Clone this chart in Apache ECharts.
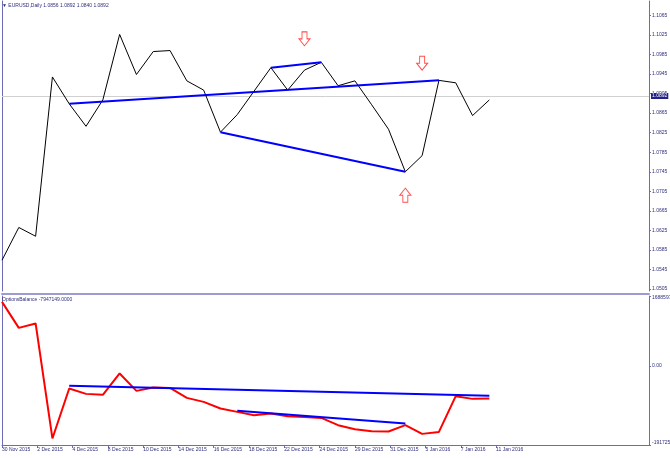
<!DOCTYPE html>
<html>
<head>
<meta charset="utf-8">
<script src="https://cdn.jsdelivr.net/npm/echarts@6/dist/echarts.min.js"></script>
<style>
  html, body { margin: 0; padding: 0; background: #fff; }
  #chart { width: 670px; height: 458px; }
</style>
</head>
<body>
<div id="chart"></div>
<script>
// daily bars, index = position on the time axis
const dates = [
  '30 Nov 2015', '1 Dec 2015', '2 Dec 2015', '3 Dec 2015', '4 Dec 2015',
  '7 Dec 2015', '8 Dec 2015', '9 Dec 2015', '10 Dec 2015', '11 Dec 2015',
  '14 Dec 2015', '15 Dec 2015', '16 Dec 2015', '17 Dec 2015', '18 Dec 2015',
  '21 Dec 2015', '22 Dec 2015', '23 Dec 2015', '24 Dec 2015', '25 Dec 2015',
  '28 Dec 2015', '29 Dec 2015', '30 Dec 2015', '31 Dec 2015', '4 Jan 2016',
  '5 Jan 2016', '6 Jan 2016', '7 Jan 2016', '8 Jan 2016', '11 Jan 2016'
];
const closes = [
  1.0564, 1.0631, 1.0613, 1.0939, 1.0884, 1.0838, 1.0892, 1.1026, 1.0944, 1.0991,
  1.0993, 1.0931, 1.0912, 1.0826, 1.0862, 1.0910, 1.0958, 1.0912, 1.0953, 1.0969,
  1.0921, 1.0931, 1.0882, 1.0832, 1.0745, 1.0778, 1.0932, 1.0927, 1.0860, 1.0892
];
const balance = [
  15460000, 9170000, 10240000, -17590000, -5490000, -6800000, -7040000, -1860000, -6070000, -5250000,
  -5350000, -7770000, -8740000, -10330000, -11160000, -11950000, -11540000, -12200000, -12370000, -12610000,
  -14370000, -15340000, -15830000, -15900000, -14370000, -16480000, -16000000, -7360000, -8010000, -7947149
];
const lastBar = [1.0856, 1.0892, 1.0840, 1.0892]; // open high low close

// hand drawn trend lines [barIndex, value]
const priceTrendA = [[4, 1.0884], [26, 1.0932]];
const priceTrendB = [[16, 1.0958], [19, 1.0969]];
const priceTrendC = [[13, 1.0826], [24, 1.0745]];
const balanceTrendA = [[4, -4860000], [29, -7280000]];
const balanceTrendB = [[14, -10910000], [24, -13960000]];
const arrowsDown = [[18, 1.1017], [25, 1.0967]];
const arrowsUp = [[24, 1.0697]];

// axis ticks
const priceTicks = [1.0505, 1.0545, 1.0585, 1.0625, 1.0665, 1.0705, 1.0745, 1.0785,
  1.0825, 1.0865, 1.0905, 1.0945, 1.0985, 1.1025, 1.1065];
const balanceTicks = [-19172520, 0, 16885970];
const dateTicks = ['30 Nov 2015', '2 Dec 2015', '4 Dec 2015', '8 Dec 2015', '10 Dec 2015',
  '14 Dec 2015', '16 Dec 2015', '18 Dec 2015', '22 Dec 2015', '24 Dec 2015',
  '29 Dec 2015', '31 Dec 2015', '5 Jan 2016', '7 Jan 2016', '11 Jan 2016'];
const dateTickStep = 2.1;

const font = 'Liberation Sans';
const textColor = '#2e2e7c';
const frameColor = '#6c6cb8';
const arrowDownPath = 'path://M3,0L8,0L8,7L11,7L5.5,14L0,7L3,7Z';
const arrowUpPath = 'path://M5.5,0L11,7L8,7L8,14L3,14L3,7L0,7Z';

const toXY = (arr) => arr.map((v, i) => [i, v]);
const trend = (data, xi, yi) => ({
  type: 'line', xAxisIndex: xi, yAxisIndex: yi, data: data,
  showSymbol: false, silent: true,
  lineStyle: { color: '#0000ff', width: 2 }
});
const arrows = (data, path) => ({
  type: 'scatter', xAxisIndex: 0, yAxisIndex: 0, data: data, silent: true,
  symbol: path, symbolSize: [11, 14],
  itemStyle: { color: '#fff', borderColor: '#ff2020', borderWidth: 1 }
});
const frameAxis = (gi) => ({
  gridIndex: gi, type: 'value', position: 'left',
  axisLine: { show: true, onZero: false, lineStyle: { color: frameColor, width: 1 } },
  axisTick: { show: false }, axisLabel: { show: false }, splitLine: { show: false }
});

const chart = echarts.init(document.getElementById('chart'));
const xMax = 38.5;

chart.setOption({
  animation: false,
  backgroundColor: '#fff',
  textStyle: { fontFamily: font },
  title: [
    {
      text: '\u25BC EURUSD,Daily ' + lastBar.map((v) => v.toFixed(4)).join(' '),
      left: 2, top: 3, padding: 0,
      textStyle: { fontSize: 5, fontWeight: 'normal', color: textColor, fontFamily: font }
    },
    {
      text: 'OptionsBalance ' + balance[balance.length - 1].toFixed(4),
      left: 2, top: 297, padding: 0,
      textStyle: { fontSize: 5, fontWeight: 'normal', color: textColor, fontFamily: font }
    }
  ],
  grid: [
    { left: 2, top: 1, width: 647, height: 290, outerBoundsMode: 'none' },
    { left: 2, top: 296, width: 647, height: 149, outerBoundsMode: 'none' }
  ],
  xAxis: [
    {
      gridIndex: 0, type: 'value', min: 0, max: xMax, offset: 3,
      axisLine: { show: true, onZero: false, lineStyle: { color: '#9c9cd2', width: 2 } },
      axisTick: { show: false }, axisLabel: { show: false }, splitLine: { show: false }
    },
    {
      gridIndex: 1, type: 'value', min: 0, max: xMax,
      axisLine: { show: true, onZero: false, lineStyle: { color: frameColor, width: 1 } },
      axisTick: {
        show: true, length: 3, lineStyle: { color: frameColor },
        customValues: dateTicks.map((d, i) => i * dateTickStep)
      },
      axisLabel: {
        show: true, fontSize: 5, color: textColor, align: 'left', margin: 2, fontFamily: font,
        customValues: dateTicks.map((d, i) => i * dateTickStep),
        formatter: (v) => dateTicks[Math.round(v / dateTickStep)] || ''
      },
      splitLine: { show: false }
    }
  ],
  yAxis: [
    {
      gridIndex: 0, type: 'value', position: 'right', min: 1.0501, max: 1.10944,
      axisLine: { show: true, onZero: false, lineStyle: { color: frameColor, width: 1 } },
      axisTick: { show: true, length: 2, lineStyle: { color: frameColor }, customValues: priceTicks },
      axisLabel: {
        show: true, fontSize: 5, color: textColor, margin: 3, fontFamily: font,
        customValues: priceTicks, formatter: (v) => v.toFixed(4)
      },
      splitLine: { show: false }
    },
    frameAxis(0),
    {
      gridIndex: 1, type: 'value', position: 'right', min: -19172520, max: 16885970,
      axisLine: { show: true, onZero: false, lineStyle: { color: frameColor, width: 1 } },
      axisTick: { show: true, length: 2, lineStyle: { color: frameColor }, customValues: balanceTicks },
      axisLabel: {
        show: true, fontSize: 5, color: textColor, margin: 3, fontFamily: font,
        customValues: balanceTicks,
        formatter: (v) => (v === 0 ? '0.00' : v > 0 ? '{hi|' + v + '}' : '{lo|' + v + '}'),
        rich: {
          hi: { fontSize: 5, color: textColor, fontFamily: font, padding: [4, 0, 0, 0] },
          lo: { fontSize: 5, color: textColor, fontFamily: font, padding: [0, 0, 4, 0] }
        }
      },
      splitLine: { show: false }
    },
    frameAxis(1)
  ],
  series: [
    {
      type: 'line', xAxisIndex: 0, yAxisIndex: 0, data: toXY(closes),
      showSymbol: false, silent: true, z: 3,
      lineStyle: { color: '#000', width: 1 },
      markLine: {
        silent: true, symbol: 'none', z: 1,
        lineStyle: { color: '#d0d0d0', width: 1, type: 'solid' },
        label: {
          position: 'end', distance: 2, fontSize: 5, color: '#fff', fontFamily: font,
          backgroundColor: '#22228a', padding: [1, 1, 0, 1],
          formatter: () => closes[closes.length - 1].toFixed(4)
        },
        data: [{ yAxis: closes[closes.length - 1] }]
      }
    },
    trend(priceTrendA, 0, 0),
    trend(priceTrendB, 0, 0),
    trend(priceTrendC, 0, 0),
    arrows(arrowsDown, arrowDownPath),
    arrows(arrowsUp, arrowUpPath),
    {
      type: 'line', xAxisIndex: 1, yAxisIndex: 2, data: toXY(balance),
      showSymbol: false, silent: true,
      lineStyle: { color: '#ff0000', width: 2 }
    },
    trend(balanceTrendA, 1, 2),
    trend(balanceTrendB, 1, 2)
  ]
});
</script>
</body>
</html>
